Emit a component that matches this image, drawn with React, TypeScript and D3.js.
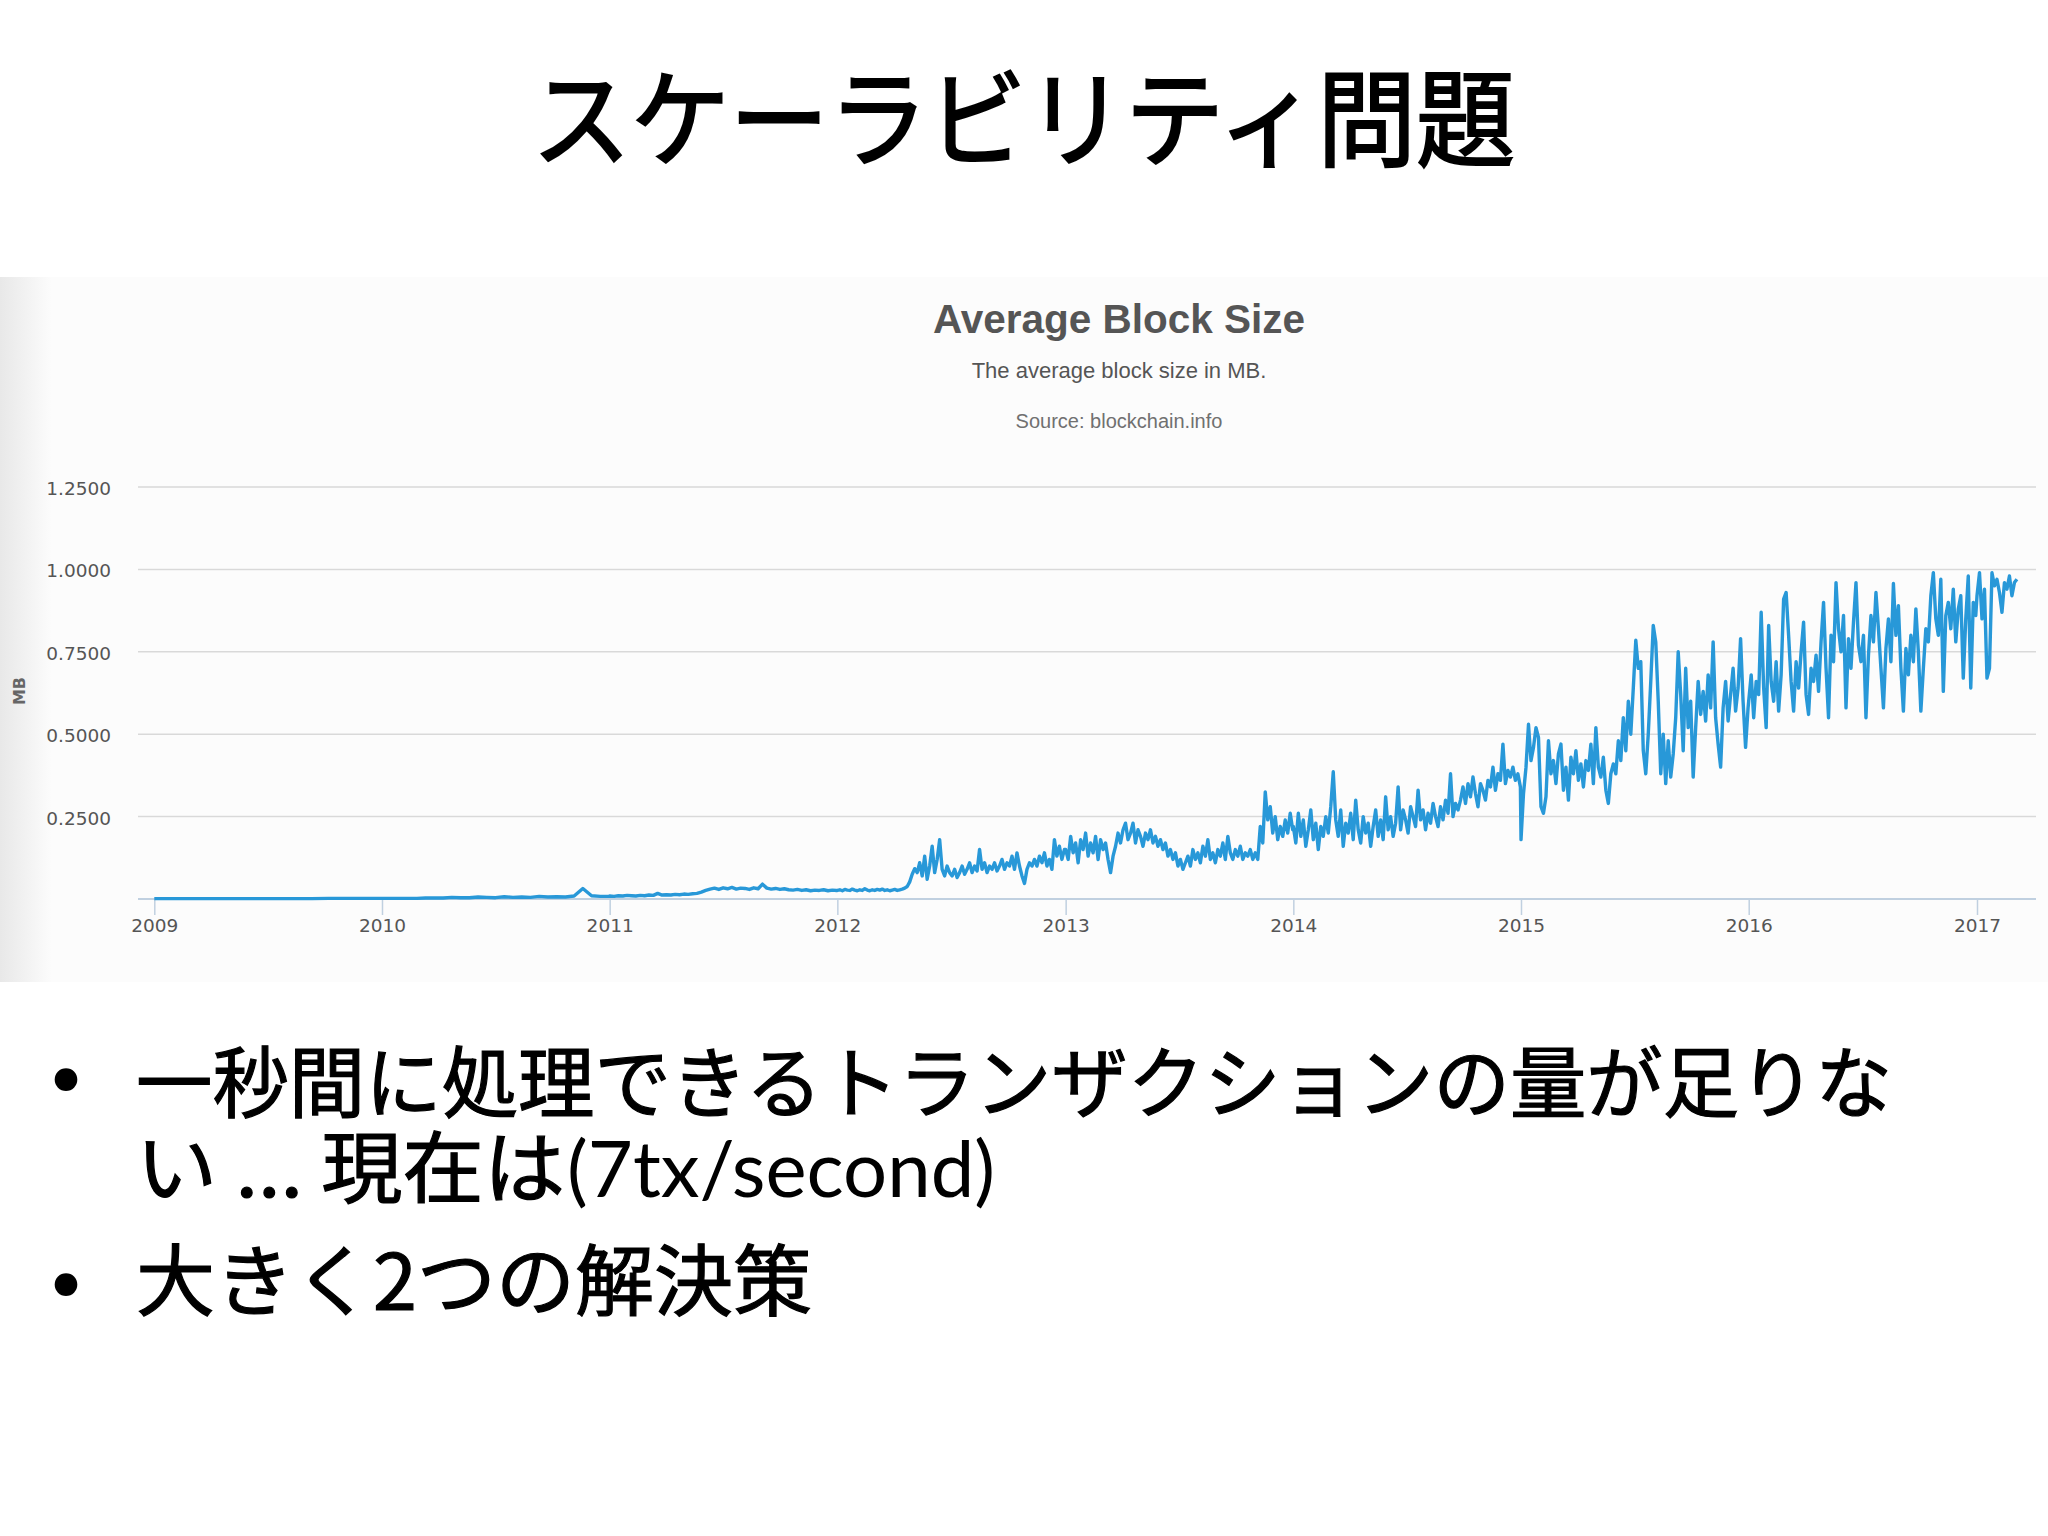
import React, { useRef, useEffect } from "react";
import * as d3 from "d3";

// average block size in MB, one value every `step` days from Jan 1 of the year
const blocks2009 = [0.001, 0.001, 0.001, 0.001, 0.001, 0.001, 0.001, 0.001, 0.001, 0.001, 0.002, 0.002, 0.002, 0.002];
const blocks2010 = [0.002, 0.002, 0.002, 0.002, 0.002, 0.003, 0.003, 0.003, 0.005, 0.004, 0.004, 0.006, 0.005, 0.004,
  0.007, 0.005, 0.006, 0.005, 0.008, 0.006, 0.007, 0.006, 0.009, 0.032, 0.010, 0.008, 0.008];
const blocks2011 = [0.009, 0.008, 0.010, 0.009, 0.011, 0.010, 0.009, 0.011, 0.010, 0.012, 0.011, 0.017, 0.012, 0.013,
  0.012, 0.014, 0.013, 0.015, 0.014, 0.016, 0.017, 0.021, 0.026, 0.030, 0.033, 0.029, 0.034, 0.031, 0.035, 0.030,
  0.033, 0.032, 0.029, 0.034, 0.031, 0.045, 0.033, 0.030, 0.032, 0.029, 0.031, 0.028, 0.027, 0.029, 0.026, 0.028,
  0.025, 0.027, 0.026, 0.028, 0.025, 0.027, 0.026];
const blocks2012 = [0.026, 0.028, 0.025, 0.029, 0.027, 0.026, 0.030, 0.027, 0.025, 0.028, 0.026, 0.031, 0.027, 0.025,
  0.028, 0.026, 0.029, 0.027, 0.030, 0.026, 0.028, 0.025, 0.027, 0.029, 0.026, 0.028, 0.030, 0.033,
  0.038, 0.052, 0.075, 0.092, 0.080,
  0.11, 0.07, 0.13, 0.06, 0.10, 0.16, 0.08, 0.12, 0.18, 0.09, 0.07, 0.10, 0.08,
  0.07, 0.09, 0.065, 0.08, 0.10, 0.075, 0.09, 0.11, 0.08, 0.10, 0.085, 0.15, 0.09, 0.11, 0.08,
  0.10, 0.09, 0.11, 0.085, 0.10, 0.12, 0.09, 0.11, 0.10, 0.13, 0.09, 0.14, 0.10, 0.07, 0.047, 0.09, 0.11, 0.10,
  0.12, 0.10, 0.13, 0.11, 0.14, 0.10, 0.12, 0.09, 0.18, 0.13, 0.16, 0.12, 0.15];
const blocks2013 = [0.15, 0.12, 0.19, 0.14, 0.17, 0.11, 0.18, 0.15, 0.20, 0.13, 0.17, 0.14, 0.19, 0.12, 0.18, 0.15, 0.17,
  0.12, 0.08, 0.13,
  0.16, 0.20, 0.17, 0.21, 0.23, 0.18, 0.20, 0.23, 0.17, 0.21, 0.19, 0.16, 0.20, 0.18, 0.21, 0.17, 0.19,
  0.16, 0.18, 0.15, 0.17, 0.13, 0.15, 0.12, 0.14, 0.10, 0.12, 0.09, 0.11,
  0.13, 0.10, 0.15, 0.12, 0.14, 0.11, 0.16, 0.13, 0.18, 0.12, 0.14, 0.11, 0.15, 0.13, 0.17, 0.12, 0.19, 0.14,
  0.12, 0.15, 0.13, 0.16, 0.12, 0.14, 0.13, 0.15, 0.12,
  0.14, 0.12, 0.22, 0.17, 0.325,
  0.24, 0.28, 0.20, 0.25, 0.18, 0.22, 0.19, 0.24, 0.20, 0.26, 0.21];
const blocks2014 = [0.22, 0.17, 0.26, 0.19, 0.24, 0.16, 0.21, 0.27, 0.18, 0.23, 0.15, 0.22, 0.19, 0.25, 0.20, 0.28,
  0.386,
  0.24, 0.19, 0.27, 0.16, 0.23, 0.20, 0.26, 0.18, 0.30, 0.21, 0.17, 0.25, 0.20, 0.23, 0.16, 0.22, 0.27, 0.19,
  0.24, 0.18, 0.31, 0.21, 0.25, 0.19,
  0.23, 0.34, 0.21, 0.27, 0.24, 0.20, 0.28, 0.25, 0.22, 0.33, 0.24, 0.27, 0.21, 0.26, 0.23, 0.29, 0.25, 0.22,
  0.28, 0.24, 0.30, 0.26, 0.38, 0.25, 0.29, 0.27,
  0.30, 0.34, 0.29, 0.35, 0.31, 0.37, 0.32, 0.28, 0.35, 0.33, 0.30, 0.36,
  0.34, 0.40, 0.33, 0.38, 0.36, 0.47, 0.35, 0.39, 0.37, 0.40,
  0.36, 0.38, 0.34];
const blocks2015 = [0.18, 0.32, 0.40, 0.53, 0.42, 0.46, 0.52, 0.49, 0.28, 0.26, 0.31,
  0.48, 0.38, 0.42, 0.35, 0.44, 0.47, 0.33, 0.40, 0.30, 0.43, 0.38, 0.45, 0.36, 0.41, 0.34, 0.42, 0.39, 0.47,
  0.35, 0.52, 0.40, 0.37, 0.43, 0.33, 0.29, 0.38, 0.41,
  0.38, 0.48, 0.42, 0.55, 0.45, 0.60, 0.50,
  0.64, 0.785, 0.70, 0.72,
  0.45, 0.38, 0.50,
  0.66, 0.83, 0.78, 0.60,
  0.38, 0.50, 0.35, 0.48, 0.37, 0.44, 0.55,
  0.75,
  0.62, 0.45, 0.70, 0.52, 0.60, 0.37,
  0.52, 0.66, 0.56, 0.63, 0.54, 0.68, 0.58, 0.78,
  0.55, 0.47, 0.40,
  0.58, 0.66, 0.54, 0.62, 0.70, 0.57, 0.64, 0.79, 0.60, 0.46, 0.58];
const blocks2016 = [0.60, 0.68, 0.55, 0.66, 0.62,
  0.87,
  0.64, 0.52, 0.83, 0.66, 0.60, 0.72, 0.57, 0.68,
  0.91, 0.93, 0.80,
  0.66, 0.57, 0.72, 0.64, 0.75, 0.84, 0.62, 0.56, 0.70, 0.66, 0.74, 0.63, 0.78, 0.90, 0.70,
  0.55, 0.80, 0.72, 0.96, 0.82, 0.75, 0.86, 0.58, 0.79, 0.70, 0.84, 0.96, 0.77, 0.72,
  0.80, 0.55, 0.74, 0.86, 0.78, 0.93, 0.82, 0.70, 0.58, 0.76, 0.85, 0.72, 0.957,
  0.80, 0.89, 0.70, 0.57, 0.76, 0.68, 0.80, 0.72, 0.88, 0.75, 0.57, 0.70,
  0.82, 0.78, 0.92, 0.99, 0.85, 0.80, 0.97, 0.63, 0.86, 0.90, 0.82, 0.94, 0.78, 0.88,
  0.92, 0.67, 0.85, 0.98, 0.64, 0.90, 0.86];
const blocks2017 = [0.92, 0.99, 0.85, 0.94, 0.67, 0.70, 0.99, 0.95, 0.97, 0.93, 0.87, 0.96, 0.94, 0.98, 0.92, 0.96, 0.97];

const yearSeries = [
  { year: 2009, step: 28, values: blocks2009 },
  { year: 2010, step: 14, values: blocks2010 },
  { year: 2011, step: 7, values: blocks2011 },
  { year: 2012, step: 4, values: blocks2012 },
  { year: 2013, step: 4, values: blocks2013 },
  { year: 2014, step: 4, values: blocks2014 },
  { year: 2015, step: 4, values: blocks2015 },
  { year: 2016, step: 4, values: blocks2016 },
  { year: 2017, step: 4, values: blocks2017 },
];

const yTicks = [0.25, 0.5, 0.75, 1.0, 1.25];
const yearTicks = [2009, 2010, 2011, 2012, 2013, 2014, 2015, 2016, 2017];

const slideTitle = "スケーラビリティ問題";
const chartTitle = "Average Block Size";
const chartSubtitle = "The average block size in MB.";
const chartSource = "Source: blockchain.info";
const yAxisTitle = "MB";
const bullet1a = "一秒間に処理できるトランザクションの量が足りな";
const bullet1b = "い ... 現在は";
const bullet1c = "(7tx/second)";
const bullet2 = "大きく2つの解決策";

const W = 2048;
const H = 1536;
const LINE_COLOR = "#2898d8";

const App = () => {
  const svgRef = useRef<SVGSVGElement>(null);

  useEffect(() => {
    const svg = d3.select(svgRef.current);
    svg.selectAll("*").remove();

    const data = yearSeries.flatMap(s =>
      s.values.map((v, i) => ({
        date: d3.utcDay.offset(new Date(Date.UTC(s.year, 0, 1)), i * s.step),
        value: v,
      }))
    );

    const x = d3.scaleUtc()
      .domain([new Date(Date.UTC(2009, 0, 1)), new Date(Date.UTC(2017, 0, 1))])
      .range([154.3, 1977]);
    const y = d3.scaleLinear().domain([0, 1.25]).range([899, 487]);
    const plotLeft = 138, plotRight = 2036;

    // slide background
    svg.append("rect").attr("width", W).attr("height", H).attr("fill", "#ffffff");

    // screenshot panel with a soft shadow on the left
    const defs = svg.append("defs");
    const grad = defs.append("linearGradient").attr("id", "panelShade")
      .attr("x1", 0).attr("x2", 1).attr("y1", 0).attr("y2", 0);
    grad.append("stop").attr("offset", 0).attr("stop-color", "#e8e8e8");
    grad.append("stop").attr("offset", 1).attr("stop-color", "#fcfcfc");
    svg.append("rect").attr("x", 0).attr("y", 277).attr("width", W).attr("height", 705).attr("fill", "#fcfcfc");
    svg.append("rect").attr("x", 0).attr("y", 277).attr("width", 52).attr("height", 705).attr("fill", "url(#panelShade)");

    // slide title
    svg.append("text")
      .attr("x", 532).attr("y", 158)
      .attr("textLength", 983).attr("lengthAdjust", "spacingAndGlyphs")
      .style("font-family", "'Noto Sans CJK JP'").style("font-size", "106px")
      .attr("fill", "#000").attr("stroke", "#000").attr("stroke-width", 2.2)
      .text(slideTitle);

    // chart headings
    const center = 1119;
    svg.append("text").attr("x", center).attr("y", 333).attr("text-anchor", "middle")
      .style("font-family", "'Liberation Sans', Arial").style("font-size", "40.5px").style("font-weight", "bold")
      .attr("fill", "#555").text(chartTitle);
    svg.append("text").attr("x", center).attr("y", 378).attr("text-anchor", "middle")
      .style("font-family", "'Liberation Sans', Arial").style("font-size", "22px")
      .attr("fill", "#555").text(chartSubtitle);
    svg.append("text").attr("x", center).attr("y", 428).attr("text-anchor", "middle")
      .style("font-family", "'Liberation Sans', Arial").style("font-size", "20px")
      .attr("fill", "#707070").text(chartSource);

    // gridlines
    svg.append("g").selectAll("line").data(yTicks).enter().append("line")
      .attr("x1", plotLeft).attr("x2", plotRight)
      .attr("y1", d => y(d)).attr("y2", d => y(d))
      .attr("stroke", "#d9d9d9").attr("stroke-width", 1.5);

    // y axis labels
    const yAxis = d3.axisLeft(y).tickValues(yTicks).tickFormat(d3.format(".4f")).tickSize(0).tickPadding(27);
    const gy = svg.append("g").attr("transform", `translate(${plotLeft},0)`).call(yAxis);
    gy.select(".domain").remove();
    gy.selectAll("text")
      .attr("dy", "0.4em")
      .style("font-family", "'DejaVu Sans'").style("font-size", "18.5px").attr("fill", "#555");

    svg.append("text")
      .attr("transform", `translate(25,691) rotate(-90)`)
      .attr("text-anchor", "middle")
      .style("font-family", "'DejaVu Sans'").style("font-size", "16px").style("font-weight", "bold")
      .attr("fill", "#666").text(yAxisTitle);

    // x axis
    svg.append("line").attr("x1", plotLeft).attr("x2", plotRight)
      .attr("y1", y(0)).attr("y2", y(0)).attr("stroke", "#c0d0e0").attr("stroke-width", 2);
    const xAxis = d3.axisBottom(x)
      .tickValues(yearTicks.map(yr => new Date(Date.UTC(yr, 0, 1))))
      .tickFormat(d3.utcFormat("%Y") as any)
      .tickSize(16).tickPadding(4);
    const gx = svg.append("g").attr("transform", `translate(0,${y(0)})`).call(xAxis);
    gx.select(".domain").remove();
    gx.selectAll("line").attr("stroke", "#c0d0e0").attr("stroke-width", 1.5);
    gx.selectAll("text")
      .style("font-family", "'DejaVu Sans'").style("font-size", "18.5px").attr("fill", "#555");

    // series
    const lineGen = d3.line<{ date: Date; value: number }>()
      .x(d => x(d.date))
      .y(d => y(d.value));
    svg.append("path").datum(data)
      .attr("fill", "none").attr("stroke", LINE_COLOR).attr("stroke-width", 3.4)
      .attr("stroke-linejoin", "round").attr("d", lineGen);

    // bullets
    const cjk = "'Noto Sans CJK JP'";
    [1082, 1287].forEach(cy => {
      svg.append("text").attr("x", 66).attr("y", cy).attr("text-anchor", "middle")
        .attr("dominant-baseline", "central")
        .style("font-family", "'DejaVu Sans'").style("font-size", "78px").attr("fill", "#000").text("•");
    });
    const body = [
      { text: bullet1a, x: 136, y: 1112, len: 1756, font: cjk },
      { text: bullet1b, x: 136, y: 1197, len: 429, font: cjk },
      { text: bullet1c, x: 567, y: 1197, len: 428, font: "Lato" },
      { text: bullet2, x: 136, y: 1310, len: 676, font: cjk },
    ];
    body.forEach(b => {
      svg.append("text").attr("x", b.x).attr("y", b.y)
        .attr("textLength", b.len).attr("lengthAdjust", "spacingAndGlyphs")
        .style("font-family", b.font).style("font-size", "78px")
        .attr("fill", "#000").attr("stroke", "#000").attr("stroke-width", b.font === cjk ? 1.2 : 0)
        .text(b.text);
    });
  }, []);

  return (
    <svg ref={svgRef} width={W} height={H}
      style={{ position: "absolute", left: 0, top: 0, display: "block" }} />
  );
};

export default App;
